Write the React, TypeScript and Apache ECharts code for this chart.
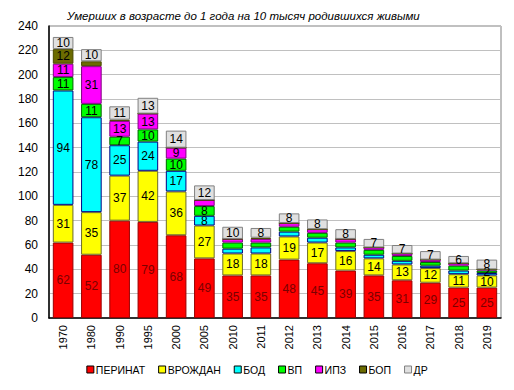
import React, { useEffect, useRef } from "react";
import * as echarts from "echarts";

const years = ["1970","1980","1990","1995","2000","2005","2010","2011","2012","2013","2014","2015","2016","2017","2018","2019"];
const perinat = [62,52,80,79,68,49,35,35,48,45,39,35,31,29,25,25];
const vrozhdan = [31,35,37,42,36,27,18,18,19,17,16,14,13,12,11,10];
const bod = [94,78,25,24,17,8,4,5,4,4,3,3,3,2,3,2];
const vp = [11,11,7,10,10,8,5,4,4,4,4,4,4,3,4,2];
const ipz = [11,31,13,13,9,5,3,3,3,3,3,2,2,2,2,1];
const bop = [12,4,1,0,0,0,0,1,0,0,0,0,0,0,0,0];
const dr = [10,10,11,13,14,12,10,8,8,8,8,7,7,7,6,8];
const yTicks = [0,20,40,60,80,100,120,140,160,180,200,220,240];

const seriesDefs = [
  { name: "ПЕРИНАТ", data: perinat, color: "#FF0000", border: "#990000", labelColor: "#7a0000" },
  { name: "ВРОЖДАН", data: vrozhdan, color: "#FFFF00", border: "#6b6b2a", labelColor: "#000000" },
  { name: "БОД", data: bod, color: "#00FFFF", border: "#000080", labelColor: "#000000" },
  { name: "ВП", data: vp, color: "#00FF00", border: "#006400", labelColor: "#000000" },
  { name: "ИПЗ", data: ipz, color: "#FF00FF", border: "#800080", labelColor: "#000000" },
  { name: "БОП", data: bop, color: "#6B6B00", border: "#4a4a00", labelColor: "#000000" },
  { name: "ДР", data: dr, color: "#E0E0E0", border: "#808080", labelColor: "#000000" },
];
const forcedLabels: Record<string, number[]> = { "ВП": [15] };
const alwaysLabelled = ["ДР"];

export default function App() {
  const ref = useRef<HTMLDivElement>(null);
  useEffect(() => {
    if (!ref.current) return;
    const chart = echarts.init(ref.current, null, { renderer: "svg" });
    const font = "Arial, 'Liberation Sans', sans-serif";
    chart.setOption({
      animation: false,
      backgroundColor: "#ffffff",
      title: {
        text: "Умерших в возрасте до 1 года на 10 тысяч родившихся живыми",
        left: 62,
        top: 5,
        textStyle: { fontFamily: font, fontSize: 11.5, fontStyle: "italic", fontWeight: "normal", color: "#000000" },
      },
      grid: { left: 49, right: 13, top: 26, bottom: 72, show: true, borderColor: "#808080", borderWidth: 1, backgroundColor: "transparent" },
      legend: {
        bottom: 10,
        left: "center",
        itemWidth: 7,
        itemHeight: 7,
        itemGap: 13,
        icon: "rect",
        textStyle: { fontFamily: font, fontSize: 10.5, color: "#000", padding: [0, 0, 0, -3] },
        data: seriesDefs.map((s) => ({ name: s.name, itemStyle: { color: s.color, borderColor: s.name === "ДР" ? "#808080" : "#000", borderWidth: 1 } })),
      },
      xAxis: {
        type: "category",
        data: years,
        axisLine: { lineStyle: { color: "#000", width: 1.5 } },
        axisTick: { show: false },
        axisLabel: { rotate: 90, fontFamily: font, fontSize: 11, color: "#000", margin: 7 },
      },
      yAxis: {
        type: "value",
        min: 0,
        max: yTicks[yTicks.length - 1],
        interval: 20,
        axisLine: { show: true, lineStyle: { color: "#000", width: 1.5 } },
        axisTick: { show: false },
        splitLine: { lineStyle: { color: "#c0c0c0", width: 1 } },
        axisLabel: { fontFamily: font, fontSize: 12, color: "#000", margin: 11 },
      },
      series: seriesDefs.map((s) => ({
        name: s.name,
        type: "bar",
        stack: "total",
        barCategoryGap: "27%",
        itemStyle: { color: s.color, borderColor: s.border, borderWidth: 1 },
        label: {
          show: true,
          position: "inside",
          fontFamily: font,
          fontSize: 12,
          color: s.labelColor,
          formatter: (p: any) => {
            const forced = (forcedLabels[s.name] || []).includes(p.dataIndex) || alwaysLabelled.includes(s.name);
            return p.value >= 7 || forced ? String(p.value) : "";
          },
        },
        data: s.data,
      })),
    });
    return () => chart.dispose();
  }, []);
  return <div ref={ref} style={{ width: 514, height: 390, margin: -8 }} />;
}
